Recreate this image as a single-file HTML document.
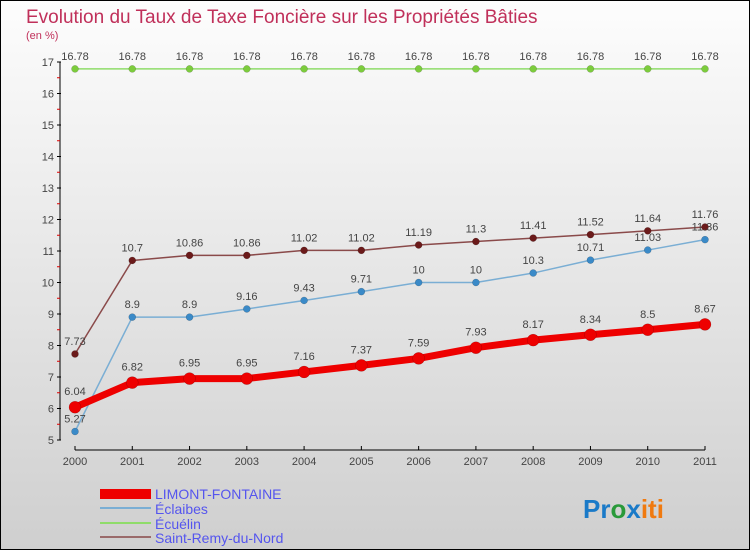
<!DOCTYPE html>
<html><head><meta charset="utf-8"><style>
body{margin:0;width:750px;height:550px;overflow:hidden;font-family:"Liberation Sans",sans-serif}
#wrap{position:absolute;left:0;top:0;width:748px;height:548px;border:1px solid #000;background:linear-gradient(#fdfdfd,#cfcfcf)}
</style></head><body>
<div id="wrap">
<svg width="750" height="550" style="position:absolute;left:-1px;top:-1px">
<text x="26" y="23" font-size="19" fill="#c0305a">Evolution du Taux de Taxe Foncière sur les Propriétés Bâties</text>
<text x="26" y="39" font-size="11" fill="#c0305a">(en %)</text>
<g id="axes"></g>
<g id="series"></g>
<g>
<rect x="100" y="489" width="51" height="10" fill="#e00"/>
<text x="155" y="499" font-size="14" fill="#5555ee">LIMONT-FONTAINE</text>
<rect x="100" y="507" width="51" height="2" fill="#7aaed4"/>
<text x="155" y="514" font-size="14" fill="#5555ee">Éclaibes</text>
<rect x="100" y="522" width="51" height="2" fill="#8fdc6a"/>
<text x="155" y="529" font-size="14" fill="#5555ee">Écuélin</text>
<rect x="100" y="536" width="51" height="2" fill="#9a6a6a"/>
<text x="155" y="543" font-size="14" fill="#5555ee">Saint-Remy-du-Nord</text>
</g>
<text x="583" y="518" font-size="26" font-weight="bold"><tspan fill="#1a7ac8">Pr</tspan><tspan fill="#2a9a3a">o</tspan><tspan fill="#1a7ac8">x</tspan><tspan fill="#f07a10">iti</tspan></text>
</svg>
</div>
<script>
const years=["2000","2001","2002","2003","2004","2005","2006","2007","2008","2009","2010","2011"];
const yTicks=[5,6,7,8,9,10,11,12,13,14,15,16,17];
const limont=[6.04,6.82,6.95,6.95,7.16,7.37,7.59,7.93,8.17,8.34,8.5,8.67];
const eclaibes=[5.27,8.9,8.9,9.16,9.43,9.71,10,10,10.3,10.71,11.03,11.36];
const ecuelin=[16.78,16.78,16.78,16.78,16.78,16.78,16.78,16.78,16.78,16.78,16.78,16.78];
const saintRemy=[7.73,10.7,10.86,10.86,11.02,11.02,11.19,11.3,11.41,11.52,11.64,11.76];
const NS="http://www.w3.org/2000/svg";
const X=i=>75+i*(630/11);
const Y=v=>440-(v-5)*(378/12);
function mk(tag,attrs,parent,txt){const e=document.createElementNS(NS,tag);for(const k in attrs)e.setAttribute(k,attrs[k]);if(txt!==undefined)e.textContent=txt;parent.appendChild(e);return e;}
const ax=document.getElementById('axes');
let l=mk('line',{x1:60,y1:Y(17),x2:60,y2:440,stroke:'#000'},ax);


l=mk('line',{x1:75,y1:450,x2:705,y2:450,stroke:'#000'},ax);


yTicks.forEach((t,i)=>{
  mk('line',{x1:57,y1:Y(t),x2:61,y2:Y(t),stroke:'#000'},ax);
  if(i<yTicks.length-1)mk('line',{x1:57,y1:Y(t+0.5),x2:60,y2:Y(t+0.5),stroke:'#d00'},ax);
  const tx=mk('text',{x:54,y:Y(t)+4,'font-size':11,fill:'#444','text-anchor':'end'},ax,String(t));
  
  
});
years.forEach((y,i)=>{
  mk('line',{x1:X(i),y1:446,x2:X(i),y2:450,stroke:'#000'},ax);
  const tx=mk('text',{x:X(i),y:465,'font-size':11,fill:'#444','text-anchor':'middle'},ax,y);
  
  
});
const sg=document.getElementById('series');
function series(data,color,dot,w,r,name,lblOff){
  const p=mk('polyline',{points:data.map((v,i)=>X(i)+','+Y(v)).join(' '),fill:'none',stroke:color,'stroke-width':w,'stroke-linejoin':'round'},sg);
  
  
  data.forEach((v,i)=>{
    const c=mk('circle',{cx:X(i),cy:Y(v),r:r,fill:dot,stroke:'#0004','stroke-width':0.5},sg);
    
    
    const t=mk('text',{x:X(i),y:Y(v)+lblOff,'font-size':11,fill:'#444','text-anchor':'middle'},sg,String(v));
    
    
  });
}
series(ecuelin,'#8fdc6a','#7ccc3c',1.5,3.5,'ecuelin',-9);
series(saintRemy,'#8a4a4a','#6b1a1a',1.5,3.5,'saint-remy',-9);
series(eclaibes,'#7aaed4','#3a8ac8',1.5,3.5,'eclaibes',-9);
series(limont,'#ee0000','#ee0000',7,6,'limont',-12);
</script>
</body></html>
